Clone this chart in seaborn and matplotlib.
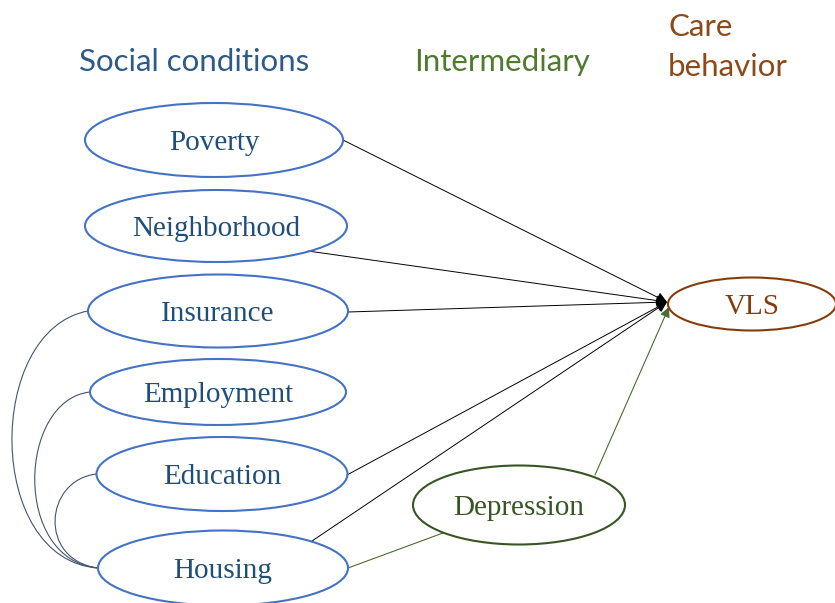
import matplotlib
matplotlib.use("Agg")
import matplotlib.pyplot as plt
import seaborn as sns
from matplotlib.patches import Ellipse, PathPatch
from matplotlib.path import Path

# Data: nodes and paths of the model
social = ["Poverty", "Neighborhood", "Insurance", "Employment", "Education", "Housing"]
intermediary = ["Depression"]
outcome = ["VLS"]
direct_to_vls = ["Poverty", "Neighborhood", "Insurance", "Education", "Housing"]
via_depression = ["Housing"]
correlated_with_housing = ["Insurance", "Employment", "Education"]
headings = ["Social conditions", "Intermediary", "Care\nbehavior"]

# Layout (pixel coords, y down)
pos = {
    "Poverty": (214, 140, 258, 74),
    "Neighborhood": (216, 226, 262, 72),
    "Insurance": (218, 311, 260, 73),
    "Employment": (218, 392, 256, 66),
    "Education": (222, 474, 251, 74),
    "Housing": (223, 568, 250, 75),
    "Depression": (519, 505, 212, 79),
    "VLS": (752, 304, 168, 53),
}
# where each outgoing line leaves its ellipse
start_pt = {
    "Poverty": (343, 140),
    "Neighborhood": (308, 251),
    "Insurance": (348, 312),
    "Education": (347, 475),
    "Housing": (312, 541),
}
vls_tip = (667, 302)

blue_edge = "#4472C4"
blue_text = "#1F4E79"
green = "#4E6B30"
brown = "#843C0C"

sns.set_theme(style="white")
fig = plt.figure(figsize=(8.35, 6.03), dpi=100)
ax = fig.add_axes([0, 0, 1, 1])
ax.set_xlim(0, 835)
ax.set_ylim(603, 0)
ax.axis("off")

# headings
head_font = ["Lato", "DejaVu Sans"]
ax.text(194, 62, headings[0], color="#2E5A88", fontsize=22.5, ha="center", va="center", family=head_font)
ax.text(502, 62, headings[1], color="#4F7A2F", fontsize=22.5, ha="center", va="center", family=head_font)
ax.text(668, 47, headings[2], color="#8C4A1A", fontsize=22.5, ha="left", va="center",
        family=head_font, linespacing=1.5)

# nodes
def node(name, edge, txt):
    cx, cy, w, h = pos[name]
    ax.add_patch(Ellipse((cx, cy), w, h, fill=False, ec=edge, lw=1.5, zorder=3))
    ax.text(cx, cy + 3, name, color=txt, fontsize=21, ha="center", va="center",
            family="Liberation Serif", zorder=4)

for n in social:
    node(n, blue_edge, blue_text)
node("Depression", "#375623", "#375623")
node("VLS", brown, brown)

# direct paths to VLS
for n in direct_to_vls:
    ax.annotate("", xy=vls_tip, xytext=start_pt[n],
                arrowprops=dict(arrowstyle="-|>", color="black", lw=0.7,
                                mutation_scale=16, shrinkA=0, shrinkB=0), zorder=2)

# mediated path
for n in via_depression:
    ax.plot([348, 443], [568, 533], color=green, lw=0.8, zorder=2)
ax.annotate("", xy=(669, 307), xytext=(595, 475),
            arrowprops=dict(arrowstyle="-|>", color=green, lw=0.8,
                            mutation_scale=15, shrinkA=0, shrinkB=0), zorder=2)

# correlation curves to Housing
ctrl = {
    "Insurance": [(-15, 330), (-15, 560)],
    "Employment": [(18, 400), (12, 560)],
    "Education": [(44, 480), (38, 560)],
}
hx, hy = 98, 568
for n in correlated_with_housing:
    cx, cy, w, h = pos[n]
    p0 = (cx - w / 2, cy)
    verts = [p0, ctrl[n][0], ctrl[n][1], (hx, hy)]
    path = Path(verts, [Path.MOVETO, Path.CURVE4, Path.CURVE4, Path.CURVE4])
    ax.add_patch(PathPatch(path, fill=False, ec="#44546A", lw=0.8, zorder=2))

fig.savefig("out.png", dpi=100)
